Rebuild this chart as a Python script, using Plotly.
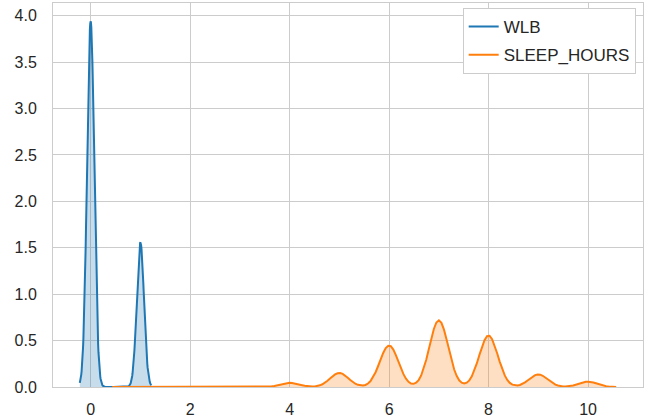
import numpy as np
import plotly.graph_objects as go

# ---- data (observed value counts) ----
series_names = ["WLB", "SLEEP_HOURS"]
wlb_values = [0, 1]
wlb_counts = [6619, 2617]
sleep_values = [1, 2, 3, 4, 5, 6, 7, 8, 9, 10]
sleep_counts = [4, 10, 36, 252, 852, 2532, 4079, 3143, 768, 324]

x_ticks = [0, 2, 4, 6, 8, 10]
y_ticks = [0.0, 0.5, 1.0, 1.5, 2.0, 2.5, 3.0, 3.5, 4.0]

line_colors = ["#1f77b4", "#ff7f0e"]
fill_colors = ["rgba(31,119,180,0.25)", "rgba(255,127,14,0.25)"]


def kde(values, counts, gridsize=200, cut=3):
    data = np.repeat(np.asarray(values, float), counts)
    n = data.size
    bw = n ** (-1 / 5) * data.std(ddof=1)  # Scott's rule
    x = np.linspace(data.min() - cut * bw, data.max() + cut * bw, gridsize)
    v = np.asarray(values, float)
    w = np.asarray(counts, float) / n
    y = (w[:, None] * np.exp(-0.5 * ((x[None, :] - v[:, None]) / bw) ** 2)).sum(0)
    y = y / (bw * np.sqrt(2 * np.pi))
    return x, y


curves = [kde(wlb_values, wlb_counts), kde(sleep_values, sleep_counts)]

fig = go.Figure()
for name, (x, y), lc, fc in zip(series_names, curves, line_colors, fill_colors):
    fig.add_trace(go.Scatter(x=x, y=y, mode="lines", fill="tozeroy", fillcolor=fc,
                             line=dict(width=0, color=lc), showlegend=False,
                             hoverinfo="skip"))
    fig.add_trace(go.Scatter(x=x, y=y, mode="lines", name=name, legendgroup=name,
                             line=dict(width=2, color=lc)))

xmin = min(c[0].min() for c in curves)
xmax = max(c[0].max() for c in curves)
pad = 0.05 * (xmax - xmin)
ymax = max(c[1].max() for c in curves) * 1.05

tick_font = dict(family="Liberation Sans, Arial, sans-serif", size=16, color="#262626")
legend_font = dict(family="Liberation Sans, Arial, sans-serif", size=17, color="#262626")
fig.update_layout(
    width=649, height=419,
    margin=dict(l=53, r=6, t=3, b=32, autoexpand=False),
    paper_bgcolor="white", plot_bgcolor="white",
    font=tick_font,
    showlegend=True,
    legend=dict(x=0.9876, y=0.987, xanchor="right", yanchor="top",
                bgcolor="white", bordercolor="#cccccc", borderwidth=1,
                font=legend_font, tracegroupgap=3, traceorder="grouped"),
)
fig.update_xaxes(range=[xmin - pad, xmax + pad], tickvals=x_ticks,
                 ticktext=[str(t) for t in x_ticks], automargin=False,
                 showgrid=True, gridcolor="#cccccc", gridwidth=1, zeroline=False,
                 showline=True, mirror=True, linecolor="#cccccc", linewidth=1,
                 ticks="outside", ticklen=8, tickcolor="rgba(0,0,0,0)")
fig.update_yaxes(range=[0, ymax], tickvals=y_ticks,
                 ticktext=[f"{t:.1f}" for t in y_ticks], automargin=False,
                 showgrid=True, gridcolor="#cccccc", gridwidth=1, zeroline=False,
                 showline=True, mirror=True, linecolor="#cccccc", linewidth=1,
                 ticks="outside", ticklen=12, tickcolor="rgba(0,0,0,0)")

fig.write_html("out.html", config={"displayModeBar": False},
               post_script="document.body.style.margin='0';")
